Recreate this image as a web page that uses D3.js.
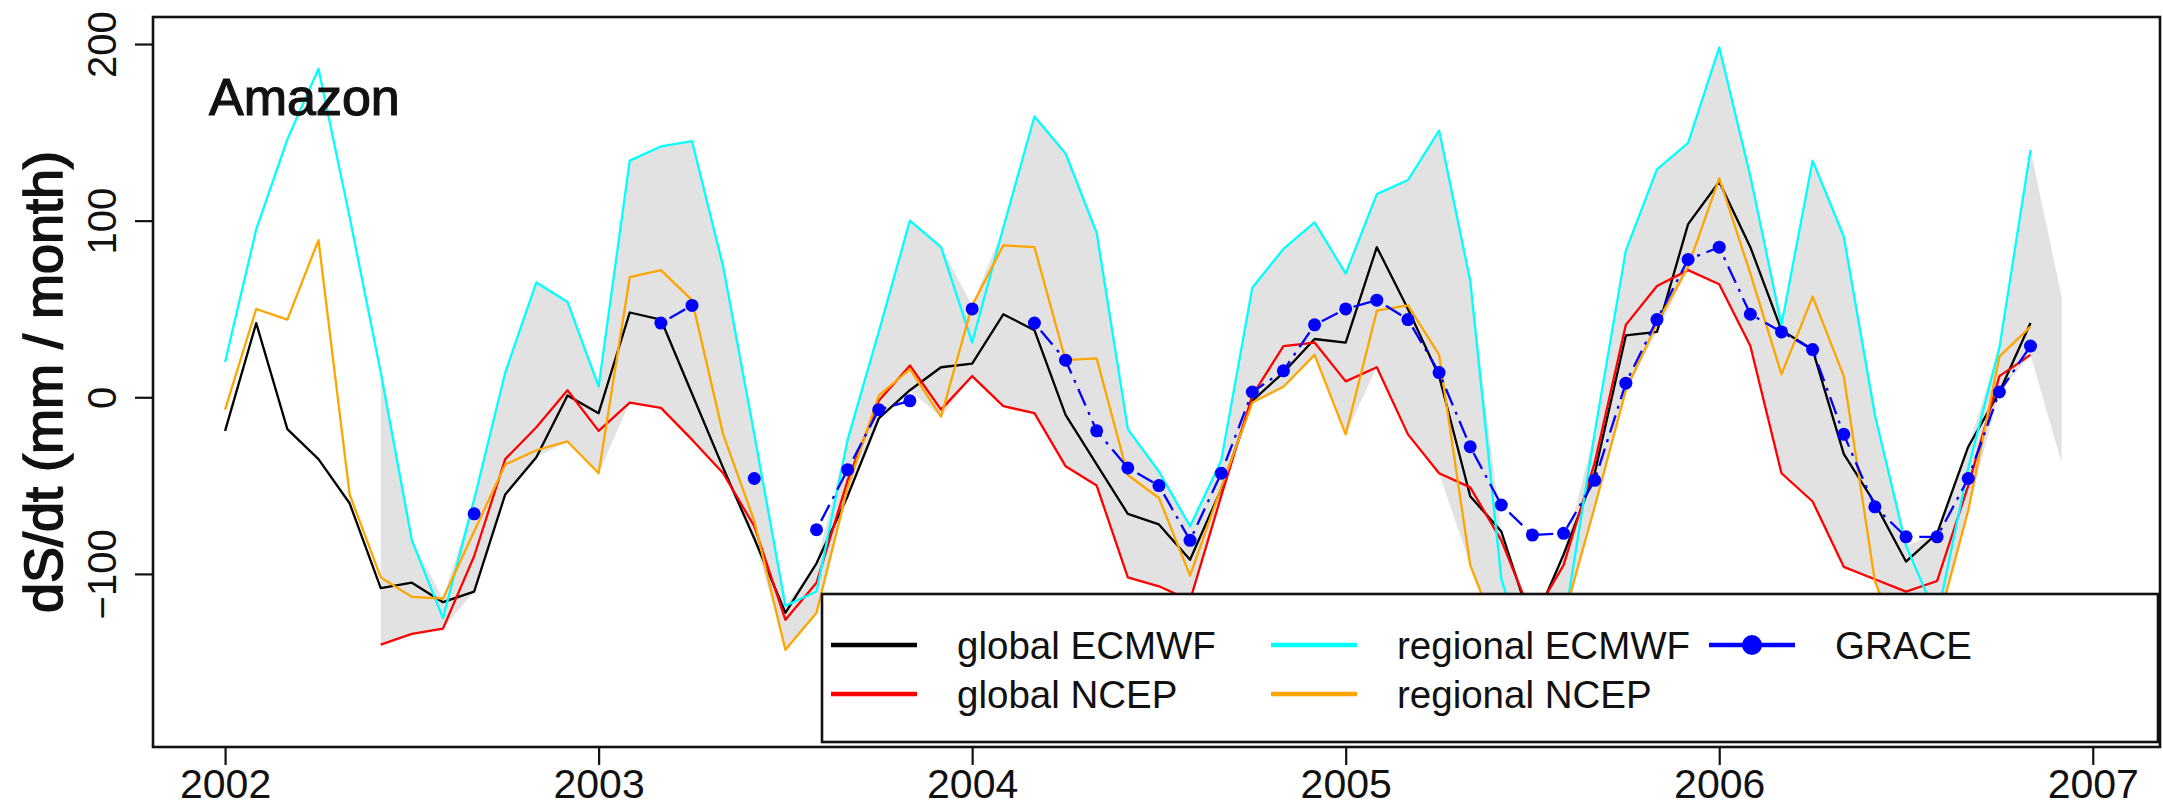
<!DOCTYPE html>
<html>
<head>
<meta charset="utf-8">
<script src="https://cdn.jsdelivr.net/npm/d3@7"></script>
<style>
  html, body { margin: 0; padding: 0; background: #ffffff; }
  svg text { font-family: "Liberation Sans", Arial, Helvetica, sans-serif; fill: #111111; }
</style>
</head>
<body>
<svg id="chart"></svg>
<script>
// monthly values, index 0 = January 2002
const startYear = 2002;

const globalEcmwf = [
  -19, 42, -18, -35, -60, -108, -105, -116, -110, -55, -34, 1,
  -9, 48, 44, 2, -40, -80, -122, -94, -56, -12, 4, 17,
  19, 47, 38, -10, -38, -66, -72, -92, -52, -2, 14, 33,
  31, 85, 50, 12, -56, -76, -130, -89, -43, 35, 37, 98,
  122, 85, 38, 27, -32, -60, -93, -77, -28, 3, 42
];
const globalNcep = [
  null, null, null, null, null, -140, -134, -131, -90, -35, -17, 4,
  -19, -3, -6, -24, -43, -73, -126, -105, -47, -2, 18, -7,
  12, -5, -9, -39, -50, -102, -107, -115, -56, 1, 29, 31,
  9, 17, -21, -43, -51, -81, -125, -95, -37, 41, 63, 72,
  64, 29, -43, -59, -96, -103, -110, -104, -50, 12, 24
];
const regionalEcmwf = [
  20, 95, 146, 186, 102, 14, -81, -125, -58, 14, 65, 54,
  6, 134, 142, 145, 74, -21, -118, -110, -24, 37, 100, 85,
  31, 96, 159, 138, 93, -18, -42, -73, -36, 62, 84, 99,
  70, 115, 123, 151, 66, -103, -160, -130, -20, 83, 129, 144,
  198, 125, 41, 134, 91, -10, -84, -125, -40, 28, 140
];
const regionalNcep = [
  -7, 50, 44, 89, -55, -102, -113, -114, -76, -38, -30, -25,
  -43, 68, 72, 55, -21, -70, -143, -122, -51, 1, 16, -11,
  52, 86, 85, 21, 22, -44, -57, -101, -51, -3, 6, 24,
  -21, 49, 52, 24, -95, -140, -150, -125, -62, 4, 42, 74,
  124, 70, 13, 57, 12, -104, -150, -130, -64, 23, 40
];
const grace = [
  null, null, null, null, null, null, null, null, -66, null, null, null,
  null, null, 42, 52, null, -46, null, -75, -41, -7, -2, null,
  50, null, 42, 21, -19, -40, -50, -81, -43, 3, 15, 41,
  50, 55, 44, 14, -28, -61, -78, -77, -47, 8, 44, 78,
  85, 47, 37, 27, -21, -62, -79, -79, -46, 3, 29
];
// the grey spread goes one month past the last line point (December 2006)
const bandTail = { low: -37, high: 57 };

const xTicks = [2002, 2003, 2004, 2005, 2006, 2007];
const yTicks = [-100, 0, 100, 200];

const modelSeries = [
  { label: "global ECMWF", values: globalEcmwf, color: "#000000" },
  { label: "global NCEP", values: globalNcep, color: "#ff0000" },
  { label: "regional ECMWF", values: regionalEcmwf, color: "#00ffff" },
  { label: "regional NCEP", values: regionalNcep, color: "#ffa500" }
];

function monthToYear(i) {
  return startYear + i / 12;
}

function renderChart() {
  const width = 2163;
  const height = 807;
  const plot = { left: 153, right: 2160, top: 17, bottom: 747 };

  const svg = d3.select("#chart")
    .attr("width", width)
    .attr("height", height)
    .attr("viewBox", "0 0 " + width + " " + height);

  const x = d3.scaleLinear().domain([2001.807, 2007.18]).range([plot.left, plot.right]);
  const y = d3.scaleLinear().domain([-198, 215.3]).range([plot.bottom, plot.top]);

  svg.append("defs")
    .append("clipPath")
    .attr("id", "plot-clip")
    .append("rect")
    .attr("x", plot.left)
    .attr("y", plot.top)
    .attr("width", plot.right - plot.left)
    .attr("height", plot.bottom - plot.top);

  const inner = svg.append("g").attr("clip-path", "url(#plot-clip)");

  // grey envelope of the four model runs
  const bandRows = [];
  globalEcmwf.forEach(function(_, i) {
    const vals = modelSeries.map(function(s) { return s.values[i]; });
    if (vals.some(function(v) { return v == null; })) return;
    bandRows.push({ t: monthToYear(i), low: d3.min(vals), high: d3.max(vals) });
  });
  bandRows.push({ t: monthToYear(globalEcmwf.length), low: bandTail.low, high: bandTail.high });

  inner.append("path")
    .datum(bandRows)
    .attr("fill", "#e2e2e2")
    .attr("stroke", "none")
    .attr("d", d3.area()
      .x(function(d) { return x(d.t); })
      .y0(function(d) { return y(d.low); })
      .y1(function(d) { return y(d.high); }));

  const line = d3.line()
    .defined(function(d) { return d != null; })
    .x(function(d, i) { return x(monthToYear(i)); })
    .y(function(d) { return y(d); });

  modelSeries.forEach(function(s) {
    inner.append("path")
      .datum(s.values)
      .attr("fill", "none")
      .attr("stroke", s.color)
      .attr("stroke-width", 2.3)
      .attr("stroke-linejoin", "round")
      .attr("d", line);
  });

  inner.append("path")
    .datum(grace)
    .attr("fill", "none")
    .attr("stroke", "#0000ff")
    .attr("stroke-width", 2.3)
    .attr("stroke-dasharray", "3,7,18,7")
    .attr("d", line);

  const gracePoints = grace
    .map(function(v, i) { return { t: monthToYear(i), v: v }; })
    .filter(function(d) { return d.v != null; });

  inner.selectAll("circle.grace")
    .data(gracePoints)
    .join("circle")
    .attr("class", "grace")
    .attr("cx", function(d) { return x(d.t); })
    .attr("cy", function(d) { return y(d.v); })
    .attr("r", 6.5)
    .attr("fill", "#0000ff");

  // axes
  const xAxis = svg.append("g")
    .attr("transform", "translate(0," + plot.bottom + ")")
    .call(d3.axisBottom(x).tickValues(xTicks).tickSize(18).tickPadding(4).tickFormat(d3.format("d")));
  xAxis.select(".domain").remove();
  xAxis.selectAll("line").attr("stroke", "#111111").attr("stroke-width", 2.2);
  xAxis.selectAll("text").attr("font-size", 41).attr("fill", "#1a1a1a");

  const yAxis = svg.append("g")
    .attr("transform", "translate(" + plot.left + ",0)")
    .call(d3.axisLeft(y).tickValues(yTicks).tickSize(18));
  yAxis.select(".domain").remove();
  yAxis.selectAll("line").attr("stroke", "#111111").attr("stroke-width", 2.2);
  yAxis.selectAll("text")
    .attr("transform", "rotate(-90)")
    .attr("x", 0)
    .attr("y", -37)
    .attr("dy", 0)
    .attr("text-anchor", "middle")
    .attr("font-size", 40)
    .attr("fill", "#1a1a1a");

  svg.append("rect")
    .attr("x", plot.left)
    .attr("y", plot.top)
    .attr("width", plot.right - plot.left)
    .attr("height", plot.bottom - plot.top)
    .attr("fill", "none")
    .attr("stroke", "#111111")
    .attr("stroke-width", 2.6);

  svg.append("text")
    .attr("transform", "translate(62," + (plot.top + plot.bottom) / 2 + ") rotate(-90)")
    .attr("text-anchor", "middle")
    .attr("font-size", 54)
    .attr("stroke", "#111111")
    .attr("stroke-width", 1.6)
    .text("dS/dt (mm / month)");

  svg.append("text")
    .attr("x", 209)
    .attr("y", 115)
    .attr("font-size", 52)
    .attr("stroke", "#111111")
    .attr("stroke-width", 1.2)
    .text("Amazon");

  // legend
  const legendBox = { x: 822, y: 594, w: 1336, h: 148 };
  const legendItems = modelSeries.concat([{ label: "GRACE", color: "#0000ff", point: true }]);
  const colX = [831, 1271, 1709];
  const rowY = [645, 694];

  const legend = svg.append("g");
  legend.append("rect")
    .attr("x", legendBox.x)
    .attr("y", legendBox.y)
    .attr("width", legendBox.w)
    .attr("height", legendBox.h)
    .attr("fill", "#ffffff")
    .attr("stroke", "#111111")
    .attr("stroke-width", 2.6);

  const item = legend.selectAll("g.item")
    .data(legendItems)
    .join("g")
    .attr("class", "item")
    .attr("transform", function(d, i) {
      return "translate(" + colX[Math.floor(i / 2)] + "," + rowY[i % 2] + ")";
    });

  item.append("line")
    .attr("x1", 0)
    .attr("x2", 86)
    .attr("y1", 0)
    .attr("y2", 0)
    .attr("stroke", function(d) { return d.color; })
    .attr("stroke-width", 4.5);

  item.filter(function(d) { return d.point; })
    .append("circle")
    .attr("cx", 43)
    .attr("cy", 0)
    .attr("r", 10)
    .attr("fill", "#0000ff");

  item.append("text")
    .attr("x", 126)
    .attr("y", 0)
    .attr("dy", "0.36em")
    .attr("font-size", 38.5)
    .attr("fill", "#1a1a1a")
    .text(function(d) { return d.label; });
}

renderChart();
</script>
</body>
</html>
